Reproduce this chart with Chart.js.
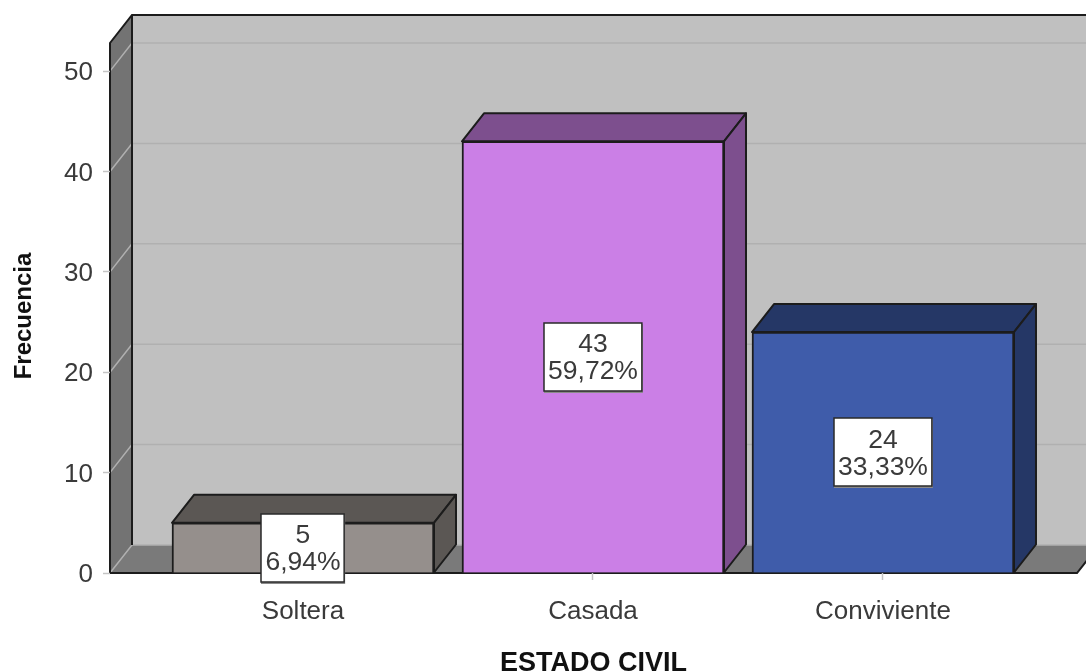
<!DOCTYPE html>
<html><head><meta charset="utf-8">
<script src="https://cdn.jsdelivr.net/npm/chart.js@4"></script>
<style>html,body{margin:0;padding:0;background:#fff}#w{width:1086px;height:671px}</style>
</head><body><div id="w"><canvas id="c" width="1086" height="671"></canvas></div>
<script>
const categories = ["Soltera", "Casada", "Conviviente"];
const frequencies = [5, 43, 24];
const percentages = ["6,94%", "59,72%", "33,33%"];
const frontColors = ["#958f8c", "#cb7fe6", "#3f5caa"];
const sideColors = ["#5b5754", "#7d4f8e", "#253766"];
const yTicks = [0, 10, 20, 30, 40, 50];
const DX = 22, DY = 28;
const FONT = '"Liberation Sans", Arial, sans-serif';

function poly(ctx, pts, fill, stroke, lw) {
  ctx.beginPath();
  pts.forEach((p, i) => i ? ctx.lineTo(p[0], p[1]) : ctx.moveTo(p[0], p[1]));
  ctx.closePath();
  if (fill) { ctx.fillStyle = fill; ctx.fill(); }
  if (stroke) { ctx.strokeStyle = stroke; ctx.lineWidth = lw || 2; ctx.lineJoin = 'round'; ctx.stroke(); }
}
const scene = {
  id: 'scene',
  beforeDraw(chart) {
    const { ctx, chartArea: a, scales: { y } } = chart;
    const L = a.left, R = a.right, T = a.top, B = a.bottom;
    ctx.save();
    poly(ctx, [[L + DX, T - DY], [R + DX, T - DY], [R + DX, B - DY], [L + DX, B - DY]], '#c0c0c0');
    poly(ctx, [[L, T], [L + DX, T - DY], [L + DX, B - DY], [L, B]], '#737373');
    poly(ctx, [[L, B], [L + DX, B - DY], [R + DX, B - DY], [R, B]], '#7a7a7a');
    ctx.strokeStyle = '#b0b0b0'; ctx.lineWidth = 1.5;
    yTicks.forEach(v => {
      const p = y.getPixelForValue(v);
      ctx.beginPath(); ctx.moveTo(L, p); ctx.lineTo(L + DX, p - DY); ctx.lineTo(R + DX, p - DY); ctx.stroke();
    });
    ctx.strokeStyle = '#1c1c1c'; ctx.lineWidth = 2;
    ctx.beginPath();
    ctx.moveTo(L, B); ctx.lineTo(L, T); ctx.lineTo(L + DX, T - DY); ctx.lineTo(R + DX, T - DY);
    ctx.moveTo(L + DX, T - DY); ctx.lineTo(L + DX, B - DY);
    ctx.moveTo(L, B); ctx.lineTo(R, B); ctx.lineTo(R + DX, B - DY);
    ctx.stroke();
    ctx.save();
    ctx.translate(24, 316);
    ctx.rotate(-Math.PI / 2);
    ctx.font = 'bold 24px ' + FONT;
    ctx.fillStyle = '#111';
    ctx.textAlign = 'center'; ctx.textBaseline = 'middle';
    ctx.fillText('Frecuencia', 0, 0);
    ctx.restore();
    ctx.restore();
  },
  beforeDatasetsDraw(chart) {
    const { ctx } = chart;
    ctx.save();
    chart.getDatasetMeta(0).data.forEach((b, i) => {
      const l = b.x - b.width / 2, r = b.x + b.width / 2, t = b.y, g = b.base;
      poly(ctx, [[l, t], [l + DX, t - DY], [r + DX, t - DY], [r, t]], sideColors[i], '#1c1c1c', 2);
      poly(ctx, [[r, t], [r + DX, t - DY], [r + DX, g - DY], [r, g]], sideColors[i], '#1c1c1c', 2);
    });
    ctx.restore();
  },
  afterDatasetsDraw(chart) {
    const { ctx } = chart;
    ctx.save();
    ctx.font = '26.5px ' + FONT;
    ctx.textAlign = 'center'; ctx.textBaseline = 'middle';
    chart.getDatasetMeta(0).data.forEach((b, i) => {
      const cy = (b.y + b.base) / 2, w = ctx.measureText(percentages[i]).width + 8, h = 68;
      const x0 = Math.round(b.x - w / 2), y0 = Math.round(cy - h / 2);
      ctx.fillStyle = '#8a8a8a'; ctx.fillRect(x0, y0 + 1, w + 1, h + 1);
      ctx.fillStyle = '#fff'; ctx.strokeStyle = '#2a2a2a'; ctx.lineWidth = 1.5;
      ctx.fillRect(x0, y0, w, h); ctx.strokeRect(x0, y0, w, h);
      ctx.fillStyle = '#3a3a3a';
      ctx.fillText(String(frequencies[i]), b.x, cy - 12);
      ctx.fillText(percentages[i], b.x, cy + 15);
    });
    ctx.restore();
  }
};

new Chart(document.getElementById('c'), {
  type: 'bar',
  data: {
    datasets: [{
      data: categories.map((c, i) => ({ x: i, y: frequencies[i] })),
      backgroundColor: frontColors,
      borderColor: '#1c1c1c',
      borderWidth: 2,
      barThickness: 262
    }]
  },
  options: {
    responsive: false,
    animation: false,
    layout: { padding: { top: 43, right: 9, left: 0, bottom: 0 } },
    plugins: { legend: { display: false }, tooltip: { enabled: false } },
    scales: {
      x: {
        type: 'linear', min: -0.6655, max: 2.669, offset: false,
        afterBuildTicks(s) { s.ticks = categories.map((c, i) => ({ value: i })); },
        afterFit(s) { s.height = 98; },
        grid: { offset: false, drawOnChartArea: false, drawTicks: true, tickLength: 7, tickColor: '#c4c4c4', tickWidth: 1.5 },
        border: { display: false },
        ticks: { autoSkip: false, maxRotation: 0, padding: 16, color: '#3a3a3a', font: { family: FONT, size: 26 }, callback: v => categories[v] },
        title: { display: true, text: 'ESTADO CIVIL', color: '#111', font: { family: FONT, size: 27, weight: 'bold' }, padding: { top: 0, bottom: -9 } }
      },
      y: {
        min: 0, max: 52.8,
        afterBuildTicks(s) { s.ticks = yTicks.map(v => ({ value: v })); },
        afterFit(s) { s.width = 110; },
        grid: { drawOnChartArea: false, drawTicks: true, tickLength: 7, tickColor: '#c4c4c4', tickWidth: 1.5 },
        border: { display: false },
        ticks: { padding: 10, labelOffset: 2, color: '#3a3a3a', font: { family: FONT, size: 26 } }
      }
    }
  },
  plugins: [scene]
});
</script></body></html>
